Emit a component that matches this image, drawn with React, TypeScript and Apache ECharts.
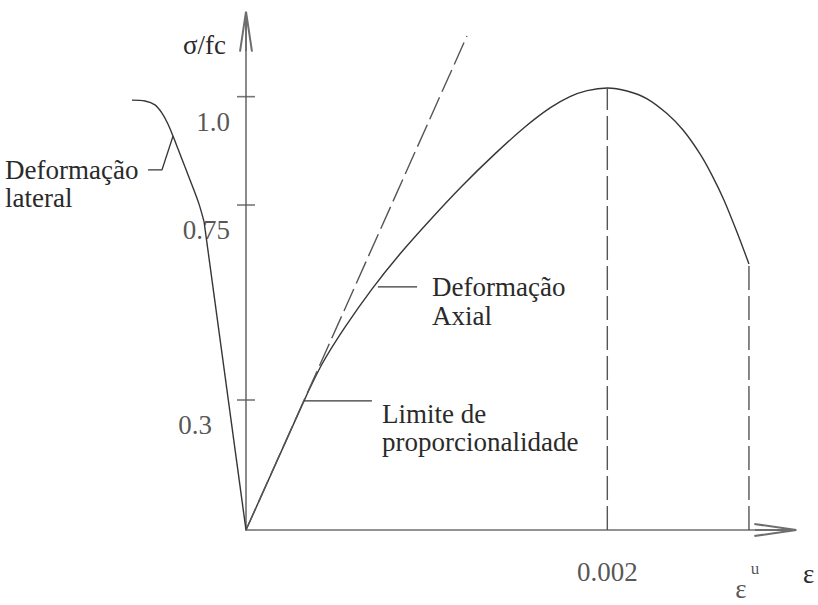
import React, { useEffect, useRef } from "react";
import * as echarts from "echarts";

// Concrete in compression: relative stress σ/fc against strain ε.
// Axial branch (positive strain), read point by point.
const axialStrain = [
  0, 0.000321, 0.000421, 0.000548, 0.000697, 0.000852, 0.001018, 0.001196,
  0.001378, 0.001544, 0.001683, 0.001793, 0.001888, 0.002, 0.002109, 0.00222,
  0.00233, 0.002419, 0.002513, 0.002579, 0.002646, 0.002718, 0.002784,
];
const axialStress = [
  0, 0.298, 0.383, 0.468, 0.556, 0.637, 0.715, 0.794, 0.868, 0.93, 0.974,
  1.0, 1.014, 1.02, 1.013, 0.995, 0.961, 0.923, 0.868, 0.819, 0.761, 0.687,
  0.614,
];
// index of the limit of proportionality on the axial branch
const LIMIT_INDEX = 1;

// Lateral branch (negative strain), from the origin outwards.
const lateralStrain = [
  0, -0.000232, -0.00026, -0.000299, -0.000338, -0.000376, -0.000404,
  -0.000432, -0.000465, -0.000504, -0.000559, -0.000631,
];
const lateralStress = [
  0, 0.711, 0.752, 0.796, 0.838, 0.879, 0.909, 0.937, 0.962, 0.981, 0.99,
  0.992,
];

// Initial tangent (elastic line) extended past the limit of proportionality.
const tangentStrain = [0, 0.001223];
const tangentStress = [0, 1.14];

// Axis marks
const yTickValues = [0.3, 0.75, 1.0];
const yTickLabels = ["0.3", "0.75", "1.0"];
const peakStrainLabel = "0.002";

// Leader-line anchors for the annotations
const lateralLeaderStrain = [-0.000542, -0.000465];
const lateralLeaderStress = 0.831;
const lateralLeaderTarget = 6; // point on the lateral branch
const limitLeaderEndStrain = 0.000697;
const axialLeaderStrain = [0.00073, 0.000947];
const axialLeaderStress = 0.561;

const FONT = '"Liberation Serif", "Times New Roman", Times, serif';
const INK = "#2a2a2a";
const CURVE = "#363636";
const AXIS = "#6e6e6e";

// plot geometry: one strain unit spans the same width in both grids
const X_MAX = 0.00293;
const X_MIN_LATERAL = -0.0007;
const Y_MAX = 1.15;
const PX_PER_STRAIN = 180660;
const ORIGIN_X = 246;
const GRID_TOP = 31.67;
const GRID_H = 498.33;

// open arrow head (points up, rotated by the axis)
const arrowY = "emptypath://M0,40 L6,0 L12,40 M6,0 L6,40";
const arrowX = "emptypath://M0,42 L6,0 L12,42 M6,0 L6,42";

const pairs = (xs: number[], ys: number[]) => xs.map((x, i) => [x, ys[i]]);

export default function App() {
  const ref = useRef<HTMLDivElement>(null);

  useEffect(() => {
    if (!ref.current) return;
    const chart = echarts.init(ref.current, undefined, { renderer: "svg" });

    const axial = pairs(axialStrain, axialStress);
    const lateral = pairs(lateralStrain, lateralStress);
    const limitPt = axial[LIMIT_INDEX];
    let peakIdx = 0;
    axialStress.forEach((v, i) => {
      if (v > axialStress[peakIdx]) peakIdx = i;
    });
    const peakPt = axial[peakIdx];
    const endPt = axial[axial.length - 1];
    const ultStrain = endPt[0];

    const solid = (data: number[][], smooth: number | boolean = false, g = 0) => ({
      type: "line",
      data,
      smooth,
      symbol: "none",
      clip: false,
      silent: true,
      xAxisIndex: g,
      yAxisIndex: g,
      lineStyle: { color: CURVE, width: 1.4 },
    });
    const dashed = (data: number[][]) => ({
      type: "line",
      data,
      symbol: "none",
      clip: false,
      silent: true,
      lineStyle: { color: "#555", width: 1.4, type: [24, 6] },
    });

    const tickLabelShift = [-25, -7, -7];
    const hiddenAxis = {
      show: false,
      axisLine: { show: false },
      axisTick: { show: false },
      axisLabel: { show: false },
      splitLine: { show: false },
    };
    const lateralWidth = -X_MIN_LATERAL * PX_PER_STRAIN;

    const option: any = {
      animation: false,
      backgroundColor: "#ffffff",
      grid: [
        { left: ORIGIN_X, top: GRID_TOP, width: X_MAX * PX_PER_STRAIN, height: GRID_H },
        { left: ORIGIN_X - lateralWidth, top: GRID_TOP, width: lateralWidth, height: GRID_H },
      ],
      xAxis: [
        {
          type: "value",
          gridIndex: 0,
          min: 0,
          max: X_MAX,
          axisLine: {
            show: true,
            symbol: ["none", arrowX],
            symbolSize: [12, 42],
            lineStyle: { color: AXIS, width: 1.6 },
          },
          axisTick: { show: false },
          axisLabel: { show: false },
          splitLine: { show: false },
        },
        { type: "value", gridIndex: 1, min: X_MIN_LATERAL, max: 0, ...hiddenAxis },
      ],
      yAxis: [
        {
          type: "value",
          gridIndex: 0,
          min: 0,
          max: Y_MAX,
          axisLine: {
            show: true,
            symbol: ["none", arrowY],
            symbolSize: [12, 40],
            lineStyle: { color: AXIS, width: 1.6 },
          },
          axisTick: { show: false },
          axisLabel: { show: false },
          splitLine: { show: false },
        },
        { type: "value", gridIndex: 1, min: 0, max: Y_MAX, ...hiddenAxis },
      ],
      series: [
        // axial branch: proportional part and curved part
        solid(axial.slice(0, LIMIT_INDEX + 1)),
        solid(axial.slice(LIMIT_INDEX), 0.3),
        // lateral branch: straight lower part, curved upper part
        solid(lateral.slice(0, 2), false, 1),
        solid(lateral.slice(1), 0.3, 1),
        // elastic tangent
        dashed(pairs(tangentStrain, tangentStress)),
        // drop lines at peak and ultimate strain
        dashed([[peakPt[0], 0], peakPt]),
        dashed([[ultStrain, 0], endPt]),
        // leader lines
        solid(
          [
            [lateralLeaderStrain[0], lateralLeaderStress],
            [lateralLeaderStrain[1], lateralLeaderStress],
            lateral[lateralLeaderTarget],
          ],
          false,
          1
        ),
        solid([limitPt, [limitLeaderEndStrain, limitPt[1]]]),
        solid([
          [axialLeaderStrain[0], axialLeaderStress],
          [axialLeaderStrain[1], axialLeaderStress],
        ]),
        // y-axis ticks crossing the axis, with their labels below
        {
          type: "scatter",
          silent: true,
          clip: false,
          symbol: "rect",
          symbolSize: [18, 1.6],
          itemStyle: { color: "#555" },
          data: yTickValues.map((v, i) => ({
            value: [0, v],
            label: { position: [tickLabelShift[i], 26] },
          })),
          label: {
            show: true,
            formatter: (p: any) => yTickLabels[p.dataIndex],
            align: "right",
            verticalAlign: "middle",
            fontFamily: FONT,
            fontSize: 27,
            color: INK,
          },
        },
        // strain labels under the x axis
        {
          type: "scatter",
          silent: true,
          clip: false,
          symbol: "rect",
          symbolSize: 1,
          itemStyle: { color: "rgba(0,0,0,0)" },
          label: {
            show: true,
            align: "center",
            verticalAlign: "middle",
            fontFamily: FONT,
            fontSize: 27,
            color: INK,
          },
          data: [
            {
              value: [peakPt[0], 0],
              label: { formatter: peakStrainLabel, position: [0.5, 42] },
            },
            {
              value: [ultStrain, 0],
              label: { formatter: "ε", position: [-7.5, 59] },
            },
            {
              value: [ultStrain, 0],
              label: { formatter: "u", position: [6.5, 39], fontSize: 17 },
            },
          ],
        },
      ],
      graphic: [
        {
          type: "text",
          x: 226,
          y: 45,
          silent: true,
          style: {
            text: "σ/fc",
            fontFamily: FONT,
            fontSize: 27,
            fill: INK,
            align: "right",
            verticalAlign: "middle",
          },
        },
        {
          type: "text",
          x: 803,
          y: 574,
          silent: true,
          style: {
            text: "ε",
            fontFamily: FONT,
            fontSize: 27,
            fill: INK,
            align: "left",
            verticalAlign: "middle",
          },
        },
        {
          type: "text",
          x: 5,
          y: 156,
          silent: true,
          style: {
            text: "Deformação\nlateral",
            fontFamily: FONT,
            fontSize: 27,
            lineHeight: 28,
            fill: INK,
            align: "left",
            verticalAlign: "top",
          },
        },
        {
          type: "text",
          x: 432,
          y: 272,
          silent: true,
          style: {
            text: "Deformação\nAxial",
            fontFamily: FONT,
            fontSize: 27,
            lineHeight: 29,
            fill: INK,
            align: "left",
            verticalAlign: "top",
          },
        },
        {
          type: "text",
          x: 382,
          y: 400,
          silent: true,
          style: {
            text: "Limite de\nproporcionalidade",
            fontFamily: FONT,
            fontSize: 27,
            lineHeight: 28,
            fill: INK,
            align: "left",
            verticalAlign: "top",
          },
        },
      ],
    };

    chart.setOption(option);
    return () => chart.dispose();
  }, []);

  return (
    <div
      ref={ref}
      style={{ position: "fixed", left: 0, top: 0, width: 818, height: 605 }}
    />
  );
}
